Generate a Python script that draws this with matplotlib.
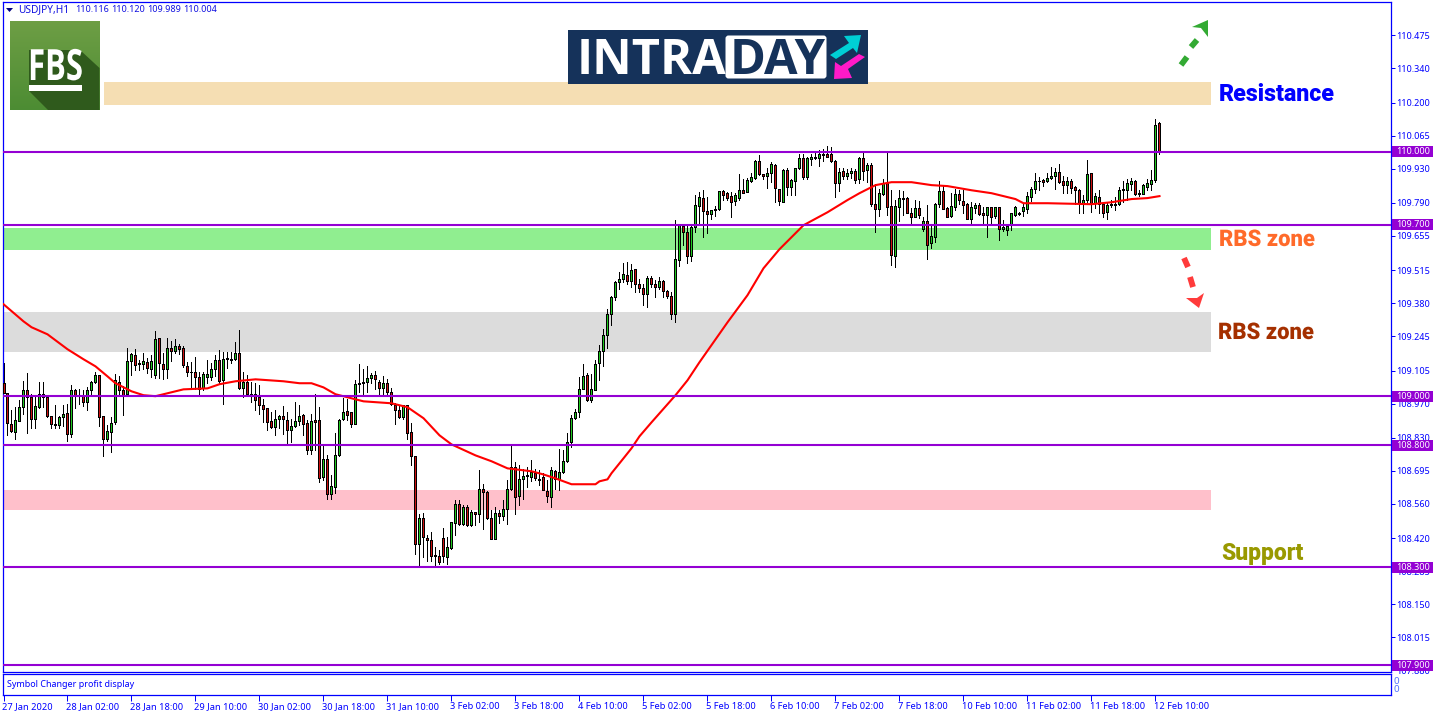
import matplotlib
matplotlib.use("Agg")
import matplotlib.pyplot as plt
import numpy as np
from matplotlib.patches import Polygon, Rectangle, FancyBboxPatch
from matplotlib.patheffects import AbstractPathEffect
from matplotlib.transforms import Affine2D

opens = [
    109.052, 109.015, 108.888, 108.854, 108.899, 108.956, 109.025, 108.995, 108.907, 108.956,
    109.007, 108.995, 108.921, 108.888, 108.883, 108.915, 108.933, 108.846, 109.027, 109.001,
    109.000, 108.977, 109.027, 109.060, 109.086, 108.917, 108.823, 108.855, 108.895, 109.059,
    109.027, 109.008, 109.145, 109.169, 109.134, 109.132, 109.139, 109.112, 109.085, 109.236,
    109.130, 109.112, 109.199, 109.186, 109.207, 109.199, 109.124, 109.100, 109.097, 109.079,
    109.033, 109.079, 109.079, 109.112, 109.147, 109.065, 109.158, 109.154, 109.153, 109.175,
    109.034, 109.056, 109.011, 109.011, 108.995, 108.966, 108.950, 108.898, 108.875, 108.905,
    108.917, 108.902, 108.863, 108.878, 108.899, 108.922, 108.892, 108.782, 108.902, 108.902,
    108.670, 108.745, 108.600, 108.630, 108.758, 108.907, 108.941, 108.937, 108.887, 109.052,
    109.058, 109.058, 109.076, 109.086, 109.060, 109.034, 109.052, 109.019, 108.966, 108.945,
    108.915, 108.962, 108.852, 108.757, 108.395, 108.503, 108.421, 108.413, 108.349, 108.348,
    108.421, 108.344, 108.379, 108.483, 108.561, 108.476, 108.546, 108.472, 108.528, 108.518,
    108.622, 108.610, 108.503, 108.416, 108.524, 108.510, 108.540, 108.622, 108.711, 108.592,
    108.663, 108.676, 108.670, 108.685, 108.663, 108.670, 108.614, 108.588, 108.694, 108.663,
    108.690, 108.737, 108.813, 108.912, 108.937, 109.031, 109.086, 108.984, 109.027, 109.136,
    109.186, 109.252, 109.338, 109.407, 109.465, 109.481, 109.497, 109.471, 109.522, 109.460,
    109.444, 109.418, 109.485, 109.460, 109.447, 109.473, 109.432, 109.411, 109.336, 109.555,
    109.695, 109.673, 109.574, 109.690, 109.776, 109.812, 109.759, 109.743, 109.767, 109.765,
    109.840, 109.829, 109.818, 109.797, 109.810, 109.845, 109.836, 109.881, 109.893, 109.960,
    109.908, 109.901, 109.911, 109.947, 109.849, 109.795, 109.923, 109.856, 109.881, 109.934,
    109.972, 109.897, 109.969, 109.975, 109.975, 109.992, 109.992, 109.992, 109.962, 109.872,
    109.919, 109.901, 109.911, 109.920, 109.886, 109.972, 109.924, 109.944, 109.784, 109.766,
    109.828, 109.873, 109.776, 109.574, 109.772, 109.810, 109.809, 109.751, 109.734, 109.768,
    109.684, 109.718, 109.627, 109.652, 109.784, 109.837, 109.768, 109.735, 109.774, 109.825,
    109.800, 109.784, 109.725, 109.770, 109.780, 109.751, 109.740, 109.772, 109.736, 109.772,
    109.684, 109.679, 109.699, 109.742, 109.751, 109.758, 109.765, 109.814, 109.848, 109.881,
    109.884, 109.879, 109.893, 109.900, 109.916, 109.879, 109.864, 109.879, 109.854, 109.845,
    109.785, 109.802, 109.911, 109.788, 109.815, 109.784, 109.754, 109.781, 109.785, 109.785,
    109.847, 109.845, 109.867, 109.879, 109.830, 109.828, 109.855, 109.867, 109.882, 110.116,
]
closes = [
    109.015, 108.891, 108.858, 108.902, 108.954, 109.025, 108.995, 108.907, 108.959, 109.007,
    108.995, 108.918, 108.885, 108.883, 108.913, 108.929, 108.846, 109.025, 109.000, 108.999,
    108.975, 109.027, 109.060, 109.086, 108.915, 108.825, 108.857, 108.892, 109.065, 109.027,
    109.005, 109.142, 109.172, 109.128, 109.131, 109.142, 109.117, 109.145, 109.232, 109.136,
    109.112, 109.199, 109.186, 109.207, 109.194, 109.128, 109.100, 109.097, 109.079, 109.031,
    109.089, 109.089, 109.113, 109.147, 109.063, 109.154, 109.154, 109.150, 109.175, 109.034,
    109.057, 109.008, 109.008, 108.986, 108.965, 108.948, 108.895, 108.875, 108.905, 108.917,
    108.905, 108.862, 108.878, 108.899, 108.921, 108.885, 108.782, 108.897, 108.895, 108.666,
    108.745, 108.600, 108.634, 108.761, 108.904, 108.937, 108.923, 108.887, 109.048, 109.048,
    109.054, 109.076, 109.088, 109.071, 109.034, 109.052, 109.017, 108.967, 108.944, 108.915,
    108.962, 108.850, 108.756, 108.395, 108.503, 108.424, 108.412, 108.346, 108.345, 108.322,
    108.346, 108.385, 108.487, 108.561, 108.479, 108.546, 108.472, 108.528, 108.518, 108.622,
    108.608, 108.502, 108.416, 108.522, 108.510, 108.540, 108.622, 108.711, 108.589, 108.663,
    108.672, 108.672, 108.689, 108.664, 108.659, 108.618, 108.592, 108.700, 108.663, 108.692,
    108.737, 108.814, 108.912, 108.937, 109.031, 109.084, 108.986, 109.031, 109.133, 109.186,
    109.252, 109.338, 109.407, 109.465, 109.481, 109.501, 109.471, 109.518, 109.459, 109.443,
    109.418, 109.485, 109.459, 109.447, 109.473, 109.432, 109.410, 109.336, 109.559, 109.699,
    109.672, 109.574, 109.690, 109.780, 109.816, 109.759, 109.746, 109.763, 109.763, 109.837,
    109.823, 109.811, 109.795, 109.822, 109.845, 109.831, 109.883, 109.896, 109.960, 109.908,
    109.902, 109.912, 109.949, 109.852, 109.797, 109.924, 109.856, 109.883, 109.931, 109.972,
    109.897, 109.972, 109.979, 109.979, 109.992, 109.988, 109.979, 109.962, 109.872, 109.916,
    109.901, 109.912, 109.920, 109.883, 109.972, 109.922, 109.944, 109.785, 109.766, 109.829,
    109.870, 109.774, 109.578, 109.776, 109.809, 109.807, 109.750, 109.734, 109.768, 109.740,
    109.718, 109.619, 109.657, 109.784, 109.837, 109.766, 109.734, 109.776, 109.825, 109.804,
    109.783, 109.725, 109.773, 109.780, 109.746, 109.740, 109.772, 109.734, 109.772, 109.684,
    109.691, 109.694, 109.747, 109.774, 109.746, 109.773, 109.818, 109.849, 109.879, 109.878,
    109.877, 109.894, 109.900, 109.915, 109.877, 109.864, 109.879, 109.852, 109.843, 109.788,
    109.804, 109.907, 109.788, 109.818, 109.784, 109.750, 109.781, 109.785, 109.783, 109.845,
    109.844, 109.870, 109.879, 109.826, 109.828, 109.862, 109.870, 109.882, 110.107, 110.004,
]
highs = [
    109.134, 109.015, 108.943, 108.954, 108.984, 109.061, 109.093, 109.008, 108.995, 109.059,
    109.059, 108.995, 108.921, 108.963, 108.918, 108.963, 108.970, 109.045, 109.031, 109.031,
    109.025, 109.038, 109.063, 109.100, 109.086, 108.917, 108.881, 108.915, 109.090, 109.082,
    109.041, 109.199, 109.175, 109.195, 109.147, 109.175, 109.158, 109.168, 109.266, 109.236,
    109.175, 109.236, 109.226, 109.232, 109.215, 109.205, 109.140, 109.140, 109.161, 109.100,
    109.100, 109.150, 109.134, 109.168, 109.188, 109.181, 109.181, 109.179, 109.220, 109.270,
    109.100, 109.086, 109.056, 109.055, 109.045, 108.990, 108.950, 108.936, 108.943, 108.922,
    108.959, 108.936, 108.908, 108.977, 108.963, 108.929, 108.902, 108.929, 109.008, 108.956,
    108.799, 108.761, 108.676, 108.850, 108.908, 108.994, 108.990, 108.937, 109.068, 109.133,
    109.113, 109.123, 109.093, 109.103, 109.065, 109.084, 109.072, 109.035, 108.972, 108.963,
    108.963, 108.966, 108.891, 108.757, 108.520, 108.524, 108.431, 108.445, 108.383, 108.370,
    108.462, 108.424, 108.487, 108.574, 108.574, 108.554, 108.554, 108.536, 108.528, 108.697,
    108.642, 108.612, 108.533, 108.547, 108.536, 108.574, 108.656, 108.795, 108.731, 108.717,
    108.704, 108.711, 108.741, 108.704, 108.700, 108.686, 108.656, 108.711, 108.697, 108.786,
    108.779, 108.850, 108.922, 108.949, 109.079, 109.131, 109.093, 109.092, 109.147, 109.208,
    109.276, 109.358, 109.409, 109.471, 109.508, 109.545, 109.548, 109.542, 109.522, 109.481,
    109.460, 109.490, 109.490, 109.474, 109.488, 109.477, 109.433, 109.426, 109.722, 109.706,
    109.706, 109.706, 109.699, 109.822, 109.836, 109.845, 109.815, 109.763, 109.777, 109.840,
    109.842, 109.836, 109.836, 109.831, 109.908, 109.890, 109.894, 109.911, 109.965, 109.986,
    109.908, 109.931, 109.958, 109.949, 109.849, 109.927, 109.931, 109.886, 109.935, 109.990,
    109.990, 109.979, 109.990, 109.995, 110.006, 110.009, 110.022, 110.020, 109.965, 109.935,
    109.931, 109.927, 109.931, 109.927, 109.979, 109.993, 109.952, 109.952, 109.867, 109.847,
    109.886, 109.995, 109.843, 109.804, 109.843, 109.839, 109.813, 109.768, 109.804, 109.799,
    109.734, 109.781, 109.699, 109.788, 109.881, 109.859, 109.772, 109.829, 109.849, 109.843,
    109.843, 109.788, 109.795, 109.788, 109.788, 109.772, 109.774, 109.774, 109.774, 109.774,
    109.720, 109.706, 109.750, 109.777, 109.754, 109.788, 109.836, 109.856, 109.914, 109.897,
    109.888, 109.914, 109.938, 109.931, 109.949, 109.900, 109.897, 109.890, 109.859, 109.849,
    109.822, 109.965, 109.914, 109.832, 109.843, 109.788, 109.791, 109.802, 109.813, 109.856,
    109.881, 109.886, 109.894, 109.884, 109.843, 109.867, 109.890, 109.924, 110.132, 110.120,
]
lows = [
    109.015, 108.840, 108.854, 108.825, 108.899, 108.929, 108.850, 108.872, 108.868, 108.950,
    108.956, 108.913, 108.872, 108.868, 108.868, 108.877, 108.817, 108.834, 108.951, 108.967,
    108.959, 108.945, 109.000, 109.052, 108.877, 108.756, 108.817, 108.772, 108.888, 109.000,
    108.922, 109.000, 109.086, 109.106, 109.109, 109.113, 109.095, 109.079, 109.076, 109.076,
    109.071, 109.076, 109.145, 109.177, 109.172, 109.120, 109.082, 109.031, 109.031, 109.004,
    109.027, 109.052, 109.068, 109.082, 109.049, 108.970, 109.116, 109.134, 109.147, 109.029,
    108.995, 109.000, 108.977, 108.945, 108.926, 108.896, 108.861, 108.868, 108.840, 108.872,
    108.847, 108.804, 108.813, 108.874, 108.881, 108.840, 108.762, 108.762, 108.782, 108.649,
    108.656, 108.580, 108.581, 108.604, 108.754, 108.902, 108.904, 108.874, 108.887, 109.018,
    109.011, 109.019, 109.054, 109.031, 109.004, 109.011, 109.004, 108.963, 108.885, 108.912,
    108.908, 108.825, 108.717, 108.353, 108.310, 108.342, 108.326, 108.326, 108.304, 108.315,
    108.322, 108.315, 108.375, 108.431, 108.472, 108.472, 108.468, 108.468, 108.472, 108.486,
    108.458, 108.499, 108.416, 108.416, 108.481, 108.492, 108.479, 108.618, 108.520, 108.554,
    108.581, 108.629, 108.653, 108.656, 108.638, 108.615, 108.567, 108.547, 108.622, 108.615,
    108.686, 108.731, 108.792, 108.908, 108.915, 109.031, 108.981, 108.976, 109.024, 109.065,
    109.122, 109.197, 109.290, 109.392, 109.440, 109.467, 109.460, 109.447, 109.426, 109.426,
    109.372, 109.365, 109.447, 109.406, 109.440, 109.406, 109.403, 109.315, 109.304, 109.531,
    109.617, 109.545, 109.553, 109.672, 109.699, 109.649, 109.668, 109.725, 109.736, 109.763,
    109.804, 109.801, 109.733, 109.780, 109.801, 109.831, 109.833, 109.876, 109.886, 109.904,
    109.890, 109.853, 109.876, 109.793, 109.782, 109.795, 109.822, 109.822, 109.822, 109.927,
    109.886, 109.886, 109.945, 109.968, 109.941, 109.962, 109.976, 109.958, 109.815, 109.840,
    109.886, 109.890, 109.894, 109.870, 109.870, 109.884, 109.877, 109.777, 109.672, 109.736,
    109.822, 109.740, 109.536, 109.529, 109.717, 109.740, 109.747, 109.704, 109.731, 109.727,
    109.676, 109.562, 109.604, 109.631, 109.774, 109.764, 109.731, 109.734, 109.761, 109.785,
    109.747, 109.723, 109.704, 109.750, 109.740, 109.704, 109.652, 109.699, 109.727, 109.638,
    109.676, 109.658, 109.679, 109.736, 109.740, 109.736, 109.747, 109.799, 109.832, 109.843,
    109.859, 109.875, 109.890, 109.848, 109.870, 109.829, 109.832, 109.832, 109.784, 109.750,
    109.747, 109.795, 109.754, 109.768, 109.750, 109.734, 109.724, 109.774, 109.761, 109.783,
    109.795, 109.802, 109.843, 109.822, 109.818, 109.825, 109.843, 109.843, 109.877, 109.989,
]

# moving average, read at the bars where it bends
ma_bars = [0, 5, 7, 11, 16, 20, 23, 26, 28, 32, 35, 38, 42, 45, 51, 54, 58, 63, 70, 74, 77, 80, 83, 90, 97,
           101, 105, 109, 112, 118, 122, 126, 132, 135, 138, 142, 148, 149, 151, 152, 155, 157, 159, 162, 168,
           171, 174, 181, 186, 190, 194, 200, 206, 211, 214, 218, 222, 227, 232, 236, 242, 247, 253, 255, 261,
           272, 277, 282, 286, 289]
ma_values = [109.376, 109.306, 109.282, 109.253, 109.192, 109.151, 109.122, 109.081, 109.053, 109.020, 109.004,
             109.000, 109.016, 109.028, 109.032, 109.049, 109.061, 109.069, 109.061, 109.053, 109.053, 109.036,
             109.008, 108.979, 108.971, 108.955, 108.910, 108.840, 108.803, 108.758, 108.734, 108.705, 108.693,
             108.680, 108.664, 108.640, 108.640, 108.652, 108.660, 108.685, 108.746, 108.787, 108.836, 108.893,
             109.004, 109.065, 109.139, 109.302, 109.413, 109.523, 109.601, 109.699, 109.752, 109.802, 109.830,
             109.863, 109.875, 109.875, 109.863, 109.859, 109.842, 109.830, 109.806, 109.789, 109.789, 109.785,
             109.793, 109.806, 109.810, 109.818]

level_prices = [110.000, 109.700, 109.000, 108.800, 108.300, 107.900]
price_ticks = [110.475, 110.340, 110.200, 110.065, 109.930, 109.790, 109.655, 109.515, 109.380, 109.245,
               109.105, 108.970, 108.830, 108.695, 108.560, 108.420, 108.285, 108.150, 108.015, 107.880]
time_labels = ["27 Jan 2020", "28 Jan 02:00", "28 Jan 18:00", "29 Jan 10:00", "30 Jan 02:00", "30 Jan 18:00",
               "31 Jan 10:00", "3 Feb 02:00", "3 Feb 18:00", "4 Feb 10:00", "5 Feb 02:00", "5 Feb 18:00",
               "6 Feb 10:00", "7 Feb 02:00", "7 Feb 18:00", "10 Feb 10:00", "11 Feb 02:00", "11 Feb 18:00",
               "12 Feb 10:00"]
header_values = ["110.116", "110.120", "109.989", "110.004"]

# zones: low price, high price, first bar, colour
zone_lows = [110.190, 109.597, 109.180, 108.533]
zone_highs = [110.284, 109.687, 109.343, 108.615]
zone_starts = [25.1, -1, -1, -1]
zone_colors = ["#F5DEB3", "#90EE90", "#DCDCDC", "#FFC0CB"]
zone_end = 301.9

W, H = 1436, 716
BLUE = "#0000FF"
PURPLE = "#9400D3"
UI_FONT = ["Noto Sans", "DejaVu Sans"]
HEAD_FONT = ["Roboto", "DejaVu Sans"]
LOGO_FONT = ["Open Sans", "DejaVu Sans"]


class Squeeze(AbstractPathEffect):
    # narrows a real text around a picture x, no condensed fonts are installed
    def __init__(self, sx, cx):
        super().__init__()
        self.sx, self.cx = sx, cx

    def draw_path(self, renderer, gc, tpath, affine, rgbFace=None):
        squeeze = Affine2D().translate(-self.cx, 0).scale(self.sx, 1).translate(self.cx, 0)
        renderer.draw_path(gc, tpath, affine + squeeze, rgbFace)


def px_axes(left, top, right, bottom):
    return [left / W, 1 - bottom / H, (right - left) / W, (bottom - top) / H]


fig = plt.figure(figsize=(W / 100, H / 100), dpi=100, facecolor="white")
ax = fig.add_axes(px_axes(3, 2, 1391, 672))
panel = fig.add_axes(px_axes(3, 674, 1391, 695))

xlim = (-0.125, 346.875)
ax.set_xlim(xlim)
ax.set_ylim(110 - 520 / 244.4, 110 + 149.5 / 244.4)

opens_a = np.array(opens)
closes_a = np.array(closes)
bars = np.arange(len(opens))
colors = ["#1FC81F" if c > o else "#CC1010" for o, c in zip(opens, closes)]

for lo, hi, start, col in zip(zone_lows, zone_highs, zone_starts, zone_colors):
    ax.fill_between([start, zone_end], lo, hi, color=col, lw=0, zorder=1)

ax.vlines(bars, lows, highs, color="black", lw=0.72, zorder=2, antialiased=False)
ax.bar(bars, np.abs(closes_a - opens_a), bottom=np.minimum(opens_a, closes_a), width=0.5, color=colors,
       edgecolor="black", linewidth=0.72, zorder=3, antialiased=False)
ax.plot(ma_bars, ma_values, color="#FF0000", lw=1.5, zorder=4)

ax.hlines(level_prices, xlim[0], xlim[1], color=PURPLE, lw=1.5, zorder=5)

ax.yaxis.tick_right()
ax.set_yticks(price_ticks, [f"{v:.3f}" for v in price_ticks])
ax.tick_params(axis="y", colors=BLUE, length=3, width=0.72, pad=0.6, labelsize=6.5)
ax.set_xticks([])
for t in ax.get_yticklabels():
    t.set_family(UI_FONT)
for s in ax.spines.values():
    s.set_color(BLUE)
    s.set_linewidth(0.9)

trans = ax.get_yaxis_transform()
for v in level_prices:
    ax.add_patch(Rectangle((1 + 1 / 1388, v - 5.5 / 244.4), 41 / 1388, 11 / 244.4, transform=trans, color=PURPLE,
                           lw=0, clip_on=False, zorder=9))
    ax.text(1 + 5 / 1388, v, f"{v:.3f}", transform=trans, ha="left", va="center", color="white", fontsize=6.5,
            family=UI_FONT, clip_on=False, zorder=10)

panel.set_xlim(xlim)
panel.set_ylim(0, 1)
panel.set_yticks([])
panel.set_xticks(np.arange(len(time_labels)) * 16, time_labels, ha="left")
panel.tick_params(axis="x", colors=BLUE, length=4, width=0.72, pad=1.2, labelsize=6.7)
for t in panel.get_xticklabels():
    t.set_family(UI_FONT)
    t.set_transform(t.get_transform() + Affine2D().translate(-1.5, 0))
for s in panel.spines.values():
    s.set_color(BLUE)
    s.set_linewidth(0.9)
panel.text(0.003, 0.5, "Symbol Changer profit display", transform=panel.transAxes, color=BLUE, fontsize=6.45,
           family=UI_FONT, va="center", ha="left")

# overlay in picture pixels for header, logos and drawn labels
ov = fig.add_axes([0, 0, 1, 1], zorder=20)
ov.patch.set_alpha(0)
ov.axis("off")

ov.add_patch(Polygon([(6, 8), (13, 8), (9.5, 12)], color="#000080", lw=0))
ov.text(18, 10, "USDJPY,H1", color="#1010E0", fontsize=7.3, family=UI_FONT, va="center", ha="left")
for hx, hv in zip([75.5, 111.5, 147.5, 183.5], header_values):
    ov.text(hx, 10, hv, color="#1010E0", fontsize=6.5, family=UI_FONT, va="center", ha="left")
ov.text(1394, 681, "0", color="#5070FF", fontsize=7, family=UI_FONT, va="center", ha="left")
ov.text(1394, 689, "0", color="#5070FF", fontsize=7, family=UI_FONT, va="center", ha="left")

# FBS logo
grad = np.linspace(0, 1, 64)[:, None, None] * np.array([-0.13, -0.07, -0.07]) + np.array([0.43, 0.62, 0.27])
ov.imshow(grad, extent=(10, 99.5, 110, 21), aspect="auto", zorder=1)
ov.add_patch(Polygon([(80, 50), (99.5, 68), (99.5, 110), (48, 110), (29, 91), (29, 50)], color="#2F5A1C", lw=0,
                     zorder=2))
ov.text(55.5, 80, "FBS", color="white", fontsize=31, fontweight="bold", family=LOGO_FONT, va="baseline", ha="center",
        zorder=3, path_effects=[Squeeze(0.72, 55.5)])
ov.add_patch(Rectangle((29, 85), 53, 6, color="white", lw=0, zorder=3))

# INTRADAY banner
ov.add_patch(Rectangle((568, 30), 300, 54, color="#15325A", lw=0, zorder=1))
ov.add_patch(FancyBboxPatch((727, 37), 98, 40, boxstyle="round,pad=1.5,rounding_size=3", color="white", lw=0, zorder=2))
ov.text(577, 74, "INTRA", color="white", fontsize=35, fontweight="bold", family=LOGO_FONT, va="baseline", ha="left",
        zorder=3)
ov.text(730, 74, "DAY", color="#15325A", fontsize=35, fontweight="bold", family=LOGO_FONT, va="baseline", ha="left",
        zorder=3)
ov.add_patch(Polygon([(830, 55), (849, 43), (844, 36), (861, 35), (857, 53), (853, 48), (836, 59)], color="#00CFD5", lw=0,
                     zorder=3))
ov.add_patch(Polygon([(865, 57), (848, 69), (852, 78), (834, 79), (835, 62), (841, 66), (859, 54)], color="#FF1AC8", lw=0,
                     zorder=3))

# drawn arrows
ov.plot([1181, 1187], [65, 57], color="#33AA33", lw=4.2, solid_capstyle="butt")
ov.plot([1191, 1197], [47, 40], color="#33AA33", lw=4.2, solid_capstyle="butt")
ov.add_patch(Polygon([(1192, 27), (1208, 20), (1208, 37), (1201, 28)], color="#33AA33", lw=0))
ov.plot([1184, 1188], [258, 267], color="#FF3B3B", lw=4.2, solid_capstyle="butt")
ov.plot([1190, 1193], [277, 287], color="#FF3B3B", lw=4.2, solid_capstyle="butt")
ov.add_patch(Polygon([(1186, 298), (1197, 298), (1204, 293), (1199, 308)], color="#FF3B3B", lw=0))

ov.text(1219, 101, "Resistance", color="#0000FF", fontsize=16.7, fontweight="black", family=HEAD_FONT,
        va="baseline", ha="left")
ov.text(1219, 246, "RBS zone", color="#FF6A2A", fontsize=16.5, fontweight="black", family=HEAD_FONT,
        va="baseline", ha="left", path_effects=[Squeeze(0.96, 1219)])
ov.text(1218, 339, "RBS zone", color="#A53000", fontsize=16.5, fontweight="black", family=HEAD_FONT,
        va="baseline", ha="left", path_effects=[Squeeze(0.96, 1218)])
ov.text(1221, 560, "Support", color="#999900", fontsize=16.5, fontweight="black", family=HEAD_FONT,
        va="baseline", ha="left")

ov.set_xlim(0, W)
ov.set_ylim(H, 0)

fig.savefig("out.png", dpi=100)
